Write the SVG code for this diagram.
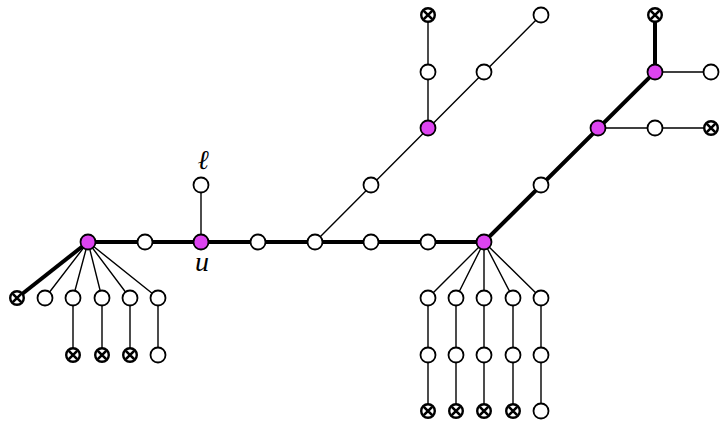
<svg xmlns="http://www.w3.org/2000/svg" width="721" height="422" viewBox="0 0 721 422">
<defs>
<style>
.e{stroke:#000;stroke-width:1.4;fill:none}
.t{stroke:#000;stroke-width:4;fill:none}
.w{fill:#fff;stroke:#000;stroke-width:1.8}
.m{fill:#dd44f0;stroke:#000;stroke-width:1.8}
.x{fill:#fff;stroke:#000;stroke-width:2.4}
.xl{stroke:#000;stroke-width:2.6}
.lbl{font-family:"Liberation Serif",serif;font-style:italic;fill:#000;text-anchor:middle}
</style>
<g id="xm"><circle class="x" cx="0" cy="0" r="6.8"/><path class="xl" d="M-4.2,-4.2L4.2,4.2M-4.2,4.2L4.2,-4.2"/></g>
</defs>
<rect width="721" height="422" fill="#fff"/>
<g id="connectors">
<path class="t" d="M88,242H484L655,72V15"/>
<path class="t" d="M88,242L17,298"/>
<path class="e" d="M88,242L45,298M88,242L73,298M88,242L102,298M88,242L130,298M88,242L158,298"/>
<path class="e" d="M73,298V355M102,298V355M130,298V355M158,298V355"/>
<path class="e" d="M201,242V185"/>
<path class="e" d="M315,242L541,15M428,128V15"/>
<path class="e" d="M598,128H711M655,72H711"/>
<path class="e" d="M484,242L428,298M484,242L456,298M484,242V298M484,242L513,298M484,242L541,298"/>
<path class="e" d="M428,298V411M456,298V411M484,298V411M513,298V411M541,298V411"/>
</g>
<g id="n_r"><circle class="m" cx="88" cy="242" r="7.5"/></g>
<g id="n1"><circle class="w" cx="145" cy="242" r="7.5"/></g>
<g id="n_u"><circle class="m" cx="201" cy="242" r="7.5"/><text class="lbl" x="202" y="271" font-size="28">u</text></g>
<g id="n_l"><circle class="w" cx="201" cy="185" r="7.5"/><text class="lbl" x="203" y="169" font-size="27">ℓ</text></g>
<g id="n3"><circle class="w" cx="258" cy="242" r="7.5"/></g>
<g id="n4"><circle class="w" cx="315" cy="242" r="7.5"/></g>
<g id="n5"><circle class="w" cx="371" cy="242" r="7.5"/></g>
<g id="n6"><circle class="w" cx="428" cy="242" r="7.5"/></g>
<g id="n_h"><circle class="m" cx="484" cy="242" r="7.5"/></g>
<g id="l1"><use href="#xm" x="17" y="298"/></g>
<g id="l2"><circle class="w" cx="45" cy="298" r="7.5"/></g>
<g id="l3"><circle class="w" cx="73" cy="298" r="7.5"/></g>
<g id="l4"><circle class="w" cx="102" cy="298" r="7.5"/></g>
<g id="l5"><circle class="w" cx="130" cy="298" r="7.5"/></g>
<g id="l6"><circle class="w" cx="158" cy="298" r="7.5"/></g>
<g id="l3b"><use href="#xm" x="73" y="355"/></g>
<g id="l4b"><use href="#xm" x="102" y="355"/></g>
<g id="l5b"><use href="#xm" x="130" y="355"/></g>
<g id="l6b"><circle class="w" cx="158" cy="355" r="7.5"/></g>
<g id="d1"><circle class="w" cx="371" cy="185" r="7.5"/></g>
<g id="d2"><circle class="m" cx="428" cy="128" r="7.5"/></g>
<g id="d3"><circle class="w" cx="484" cy="72" r="7.5"/></g>
<g id="d4"><circle class="w" cx="541" cy="15" r="7.5"/></g>
<g id="d5"><circle class="w" cx="428" cy="72" r="7.5"/></g>
<g id="d6"><use href="#xm" x="428" y="15"/></g>
<g id="e1"><circle class="w" cx="541" cy="185" r="7.5"/></g>
<g id="e2"><circle class="m" cx="598" cy="128" r="7.5"/></g>
<g id="e3"><circle class="m" cx="655" cy="72" r="7.5"/></g>
<g id="e4"><use href="#xm" x="655" y="15"/></g>
<g id="e5"><circle class="w" cx="711" cy="72" r="7.5"/></g>
<g id="e6"><circle class="w" cx="655" cy="128" r="7.5"/></g>
<g id="e7"><use href="#xm" x="711" y="128"/></g>
<g id="r1a"><circle class="w" cx="428" cy="298" r="7.5"/></g>
<g id="r2a"><circle class="w" cx="456" cy="298" r="7.5"/></g>
<g id="r3a"><circle class="w" cx="484" cy="298" r="7.5"/></g>
<g id="r4a"><circle class="w" cx="513" cy="298" r="7.5"/></g>
<g id="r5a"><circle class="w" cx="541" cy="298" r="7.5"/></g>
<g id="r1b"><circle class="w" cx="428" cy="355" r="7.5"/></g>
<g id="r2b"><circle class="w" cx="456" cy="355" r="7.5"/></g>
<g id="r3b"><circle class="w" cx="484" cy="355" r="7.5"/></g>
<g id="r4b"><circle class="w" cx="513" cy="355" r="7.5"/></g>
<g id="r5b"><circle class="w" cx="541" cy="355" r="7.5"/></g>
<g id="r1c"><use href="#xm" x="428" y="411"/></g>
<g id="r2c"><use href="#xm" x="456" y="411"/></g>
<g id="r3c"><use href="#xm" x="484" y="411"/></g>
<g id="r4c"><use href="#xm" x="513" y="411"/></g>
<g id="r5c"><circle class="w" cx="541" cy="411" r="7.5"/></g>
</svg>
